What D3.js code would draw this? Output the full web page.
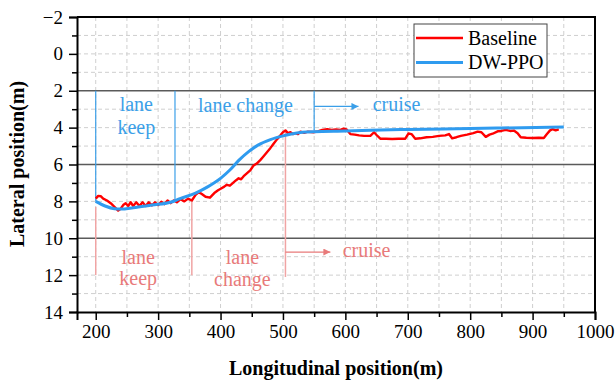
<!DOCTYPE html>
<html>
<head>
<meta charset="utf-8">
<script src="https://d3js.org/d3.v7.min.js"></script>
<style>
body { margin: 0; background: #fff; }
text { font-family: "Liberation Serif", "Times New Roman", serif; }
</style>
</head>
<body>
<svg width="616" height="384"></svg>
<script>
// series: [longitudinal, lateral]
var baseline = [[200,7.85],[204,7.7],[208,7.72],[212,7.85],[218,7.95],[224,8.1],[230,8.3],[236,8.5],[240,8.4],[244,8.2],
  [248,8.1],[252,8.25],[256,8.05],[260,8.25],[265,8.05],[270,8.25],[275,8.05],[280,8.25],[285,8.05],[290,8.22],
  [295,8.05],[300,8.2],[305,8.02],[310,8.15],[315,7.95],[320,8.1],[325,7.95],[330,8.05],[336,7.88],[342,8.0],
  [348,7.85],[354,7.95],[360,7.65],[365,7.5],[370,7.6],[376,7.75],[383,7.8],[390,7.55],[396,7.4],[401,7.3],
  [406,7.2],[410,7.1],[415,7.15],[420,7.0],[425,6.85],[429,6.75],[433,6.8],[438,6.6],[443,6.45],[448,6.3],
  [453,6.05],[458,5.95],[464,5.75],[469,5.55],[474,5.35],[480,5.1],[485,4.87],[490,4.65],[496,4.42],[500,4.25],
  [504,4.15],[508,4.3],[512,4.25],[516,4.35],[520,4.3],[524,4.35],[528,4.22],[534,4.28],[540,4.22],[549,4.25],
  [556,4.2],[563,4.12],[571,4.08],[578,4.12],[585,4.1],[592,4.12],[597,4.06],[602,4.1],[608,4.35],[615,4.38],
  [622,4.42],[630,4.45],[640,4.45],[646,4.25],[650,4.4],[656,4.6],[665,4.6],[675,4.62],[685,4.6],[696,4.6],
  [701,4.32],[706,4.35],[712,4.6],[720,4.58],[730,4.52],[740,4.5],[750,4.45],[760,4.42],[766,4.35],[771,4.58],
  [778,4.52],[785,4.45],[795,4.38],[805,4.3],[812,4.22],[818,4.25],[825,4.5],[831,4.38],[836,4.33],[844,4.2],
  [850,4.18],[857,4.12],[864,4.18],[870,4.16],[876,4.3],[881,4.52],[890,4.55],[900,4.56],[910,4.55],[918,4.56],
  [923,4.35],[928,4.15],[932,4.08],[937,4.15],[942,4.1]];

var dwppo = [[200,8.0],[215,8.25],[230,8.4],[240,8.42],[260,8.35],[290,8.2],[320,8.05],[335,7.85],[360,7.55],
  [380,7.2],[400,6.75],[415,6.3],[430,5.75],[445,5.3],[460,4.95],[480,4.65],[500,4.45],[520,4.3],[550,4.22],
  [600,4.18],[640,4.14],[700,4.1],[800,4.05],[850,4.02],[950,3.96]];

var xTicks = [200, 300, 400, 500, 600, 700, 800, 900, 1000];
var xMinor = [250, 350, 450, 550, 650, 750, 850, 950];
var yTicks = [-2, 0, 2, 4, 6, 8, 10, 12, 14];
var yMinor = [-1, 1, 3, 5, 7, 9, 11, 13];
var laneLines = [2, 6, 10];

// phase annotations (data coords)
var blueMarks = [[200, 2, 8.0], [327, 2, 7.95], [550, 2, 4.15]];
var redMarks = [[200, 8.3, 12], [354, 8.0, 12], [504, 4.2, 12.1]];
var blueArrow = [550, 621, 2.85];
var redArrow = [504, 576, 10.75];
var blueLabels = [["lane", 265, 3.11], ["keep", 265, 4.36], ["lane change", 440, 3.17], ["cruise", 682, 3.12]];
var redLabels = [["lane", 268, 11.38], ["keep", 268, 12.55], ["lane", 435, 11.38], ["change", 435, 12.6], ["cruise", 634, 11.02]];

var blue = "#2f9bef", red = "#ff0000";
var blueNote = "#3b9fe8", redNote = "#e87a7a", redNoteLine = "#f0a4a4";
var serif = "'Liberation Serif', 'Times New Roman', serif";

var svg = d3.select("svg");
var margin = {top: 17, right: 21, bottom: 72, left: 77};
var width = 616 - margin.left - margin.right,
    height = 384 - margin.top - margin.bottom;

var x = d3.scaleLinear().domain([170, 1000]).range([0, width]);
var y = d3.scaleLinear().domain([-2, 14]).range([0, height]);

svg.append("defs").selectAll("marker")
  .data([["arB", blueNote], ["arR", redNote]])
  .enter().append("marker")
  .attr("id", function(d) { return d[0]; })
  .attr("viewBox", "0 0 10 10")
  .attr("refX", 10).attr("refY", 5)
  .attr("markerWidth", 13).attr("markerHeight", 7)
  .attr("markerUnits", "userSpaceOnUse")
  .attr("orient", "auto")
  .append("path").attr("d", "M0,0L10,5L0,10Z")
  .attr("fill", function(d) { return d[1]; });

var g = svg.append("g").attr("transform", "translate(" + margin.left + "," + margin.top + ")");

// dashed grid
g.append("g").selectAll("line").data(xTicks.concat(xMinor).filter(function(v) { return v < 1000; }))
  .enter().append("line")
  .attr("x1", function(d) { return x(d); }).attr("x2", function(d) { return x(d); })
  .attr("y1", 0).attr("y2", height)
  .attr("stroke", "#cfcfcf").attr("stroke-dasharray", "4,3");
g.append("g").selectAll("line").data(yTicks.concat(yMinor).filter(function(v) { return v > -2 && v < 14 && laneLines.indexOf(v) < 0; }))
  .enter().append("line")
  .attr("x1", 0).attr("x2", width)
  .attr("y1", function(d) { return y(d); }).attr("y2", function(d) { return y(d); })
  .attr("stroke", "#cfcfcf").attr("stroke-dasharray", "4,3");

// lane boundaries
g.append("g").selectAll("line").data(laneLines)
  .enter().append("line")
  .attr("x1", 0).attr("x2", width)
  .attr("y1", function(d) { return y(d); }).attr("y2", function(d) { return y(d); })
  .attr("stroke", "#5a5a5a").attr("stroke-width", 1.3);

// phase markers
g.append("g").selectAll("line").data(blueMarks)
  .enter().append("line")
  .attr("x1", function(d) { return x(d[0]); }).attr("x2", function(d) { return x(d[0]); })
  .attr("y1", function(d) { return y(d[1]); }).attr("y2", function(d) { return y(d[2]); })
  .attr("stroke", blueNote).attr("stroke-width", 1.2);
g.append("g").selectAll("line").data(redMarks)
  .enter().append("line")
  .attr("x1", function(d) { return x(d[0]); }).attr("x2", function(d) { return x(d[0]); })
  .attr("y1", function(d) { return y(d[1]); }).attr("y2", function(d) { return y(d[2]); })
  .attr("stroke", redNoteLine).attr("stroke-width", 1.5);

g.append("line")
  .attr("x1", x(blueArrow[0])).attr("x2", x(blueArrow[1]))
  .attr("y1", y(blueArrow[2])).attr("y2", y(blueArrow[2]))
  .attr("stroke", blueNote).attr("stroke-width", 1.2).attr("marker-end", "url(#arB)");
g.append("line")
  .attr("x1", x(redArrow[0])).attr("x2", x(redArrow[1]))
  .attr("y1", y(redArrow[2])).attr("y2", y(redArrow[2]))
  .attr("stroke", redNote).attr("stroke-width", 1.2).attr("marker-end", "url(#arR)");

g.append("g").selectAll("text").data(blueLabels)
  .enter().append("text")
  .attr("x", function(d) { return x(d[1]); }).attr("y", function(d) { return y(d[2]); })
  .attr("text-anchor", "middle").attr("font-size", 20).attr("fill", blueNote)
  .text(function(d) { return d[0]; });
g.append("g").selectAll("text").data(redLabels)
  .enter().append("text")
  .attr("x", function(d) { return x(d[1]); }).attr("y", function(d) { return y(d[2]); })
  .attr("text-anchor", "middle").attr("font-size", 20).attr("fill", redNote)
  .text(function(d) { return d[0]; });

// curves
var line = d3.line().x(function(d) { return x(d[0]); }).y(function(d) { return y(d[1]); });
g.append("path").datum(baseline)
  .attr("d", line)
  .attr("fill", "none").attr("stroke", red).attr("stroke-width", 2.4).attr("stroke-linejoin", "round");
g.append("path").datum(dwppo)
  .attr("d", line.curve(d3.curveMonotoneX))
  .attr("fill", "none").attr("stroke", blue).attr("stroke-width", 3);

// axes
g.append("g").attr("transform", "translate(0," + height + ")")
  .call(d3.axisBottom(x).tickValues(xTicks).tickSize(8).tickPadding(5).tickFormat(d3.format("d")));
g.append("g").attr("transform", "translate(0," + height + ")")
  .call(d3.axisBottom(x).tickValues(xMinor).tickSize(5).tickFormat(""))
  .select(".domain").remove();
g.append("g")
  .call(d3.axisLeft(y).tickValues(yTicks).tickSize(8).tickPadding(6));
g.append("g")
  .call(d3.axisLeft(y).tickValues(yMinor).tickSize(5).tickFormat(""))
  .select(".domain").remove();

g.selectAll(".tick line").attr("stroke", "#000").attr("stroke-width", 1.5);
g.selectAll(".domain").attr("stroke", "#000").attr("stroke-width", 2);
g.selectAll(".tick text")
  .style("font-family", serif).style("font-size", "19px").attr("fill", "#000");

// frame top/right
g.append("path")
  .attr("d", "M0,0H" + width + "V" + height)
  .attr("fill", "none").attr("stroke", "#000").attr("stroke-width", 2);

// legend
var leg = svg.append("g").attr("transform", "translate(414,24)");
leg.append("rect").attr("width", 133).attr("height", 53)
  .attr("fill", "#fff").attr("stroke", "#444").attr("stroke-width", 1);
var legItems = [["Baseline", red, 2.4], ["DW-PPO", blue, 3]];
legItems.forEach(function(d, i) {
  var yy = 14 + i * 24.5;
  leg.append("line").attr("x1", 2).attr("x2", 49).attr("y1", yy).attr("y2", yy)
    .attr("stroke", d[1]).attr("stroke-width", d[2]);
  leg.append("text").attr("x", 54).attr("y", yy + 6.5).attr("font-size", 20).text(d[0]);
});

// axis titles
svg.append("text").attr("x", 336).attr("y", 375)
  .attr("text-anchor", "middle").attr("font-size", 20).attr("font-weight", "bold")
  .text("Longitudinal position(m)");
svg.append("text").attr("transform", "translate(24," + 164 + ") rotate(-90)")
  .attr("text-anchor", "middle").attr("font-size", 20).attr("font-weight", "bold")
  .text("Lateral position(m)");
</script>
</body>
</html>
